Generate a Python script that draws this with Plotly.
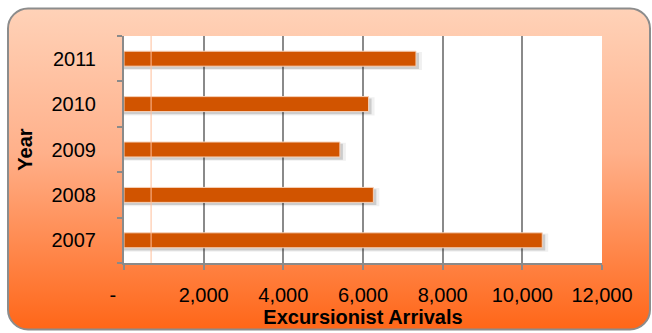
import base64
import plotly.graph_objects as go

# ---- data ----
years = ["2007", "2008", "2009", "2010", "2011"]
arrivals = [10500, 6260, 5420, 6140, 7330]
tick_vals = [0, 2000, 4000, 6000, 8000, 10000, 12000]
tick_text = ["-    ", "2,000", "4,000", "6,000", "8,000", "10,000", "12,000"]

W, H = 652, 333
ML, MR, MT, MB = 124, 50, 36, 70
FONT = "Liberation Sans, Arial, sans-serif"

# background rounded panel with vertical gradient (no text)
svg = f'''<svg xmlns="http://www.w3.org/2000/svg" width="{W}" height="{H}" viewBox="0 0 {W} {H}">
<defs><linearGradient id="g" x1="0" y1="0" x2="0" y2="1">
<stop offset="0" stop-color="#FFD2B8"/>
<stop offset="0.45" stop-color="#FFB08A"/>
<stop offset="1" stop-color="#FF6618"/>
</linearGradient></defs>
<rect x="8" y="8.5" width="642" height="321" rx="20" ry="20" fill="url(#g)" stroke="#8C8C8C" stroke-width="2"/>
</svg>'''
src = "data:image/svg+xml;base64," + base64.b64encode(svg.encode()).decode()

pw, ph = W - ML - MR, H - MT - MB
px_per_unit_x = pw / 12000
shift = 3 / px_per_unit_x

fig = go.Figure()
# soft shadows
fig.add_trace(go.Bar(
    x=[v + 2 * shift for v in arrivals], y=years, orientation="h",
    width=0.40, offset=-0.25, marker=dict(color="rgba(0,0,0,0.06)", line=dict(width=0)),
    hoverinfo="skip", showlegend=False))
fig.add_trace(go.Bar(
    x=[v + shift for v in arrivals], y=years, orientation="h",
    width=0.35, offset=-0.225, marker=dict(color="rgba(0,0,0,0.15)", line=dict(width=0)),
    hoverinfo="skip", showlegend=False))
# main bars
fig.add_trace(go.Bar(
    x=arrivals, y=years, orientation="h",
    width=0.33, offset=-0.165,
    marker=dict(color="#D15400", line=dict(color="#F6D2BA", width=1)),
    showlegend=False))

fig.update_layout(
    width=W, height=H,
    margin=dict(l=ML, r=MR, t=MT, b=MB, autoexpand=False),
    paper_bgcolor="white", plot_bgcolor="white",
    barmode="overlay",
    font=dict(family=FONT, size=20, color="black"),
    images=[dict(source=src, xref="paper", yref="paper",
                 x=-ML / pw, y=1 + MT / ph, sizex=W / pw, sizey=H / ph,
                 xanchor="left", yanchor="top", sizing="stretch", layer="below")],
    shapes=[
        dict(type="rect", xref="paper", yref="paper", x0=0, x1=1, y0=0, y1=1,
             fillcolor="white", line=dict(width=0), layer="below"),
        dict(type="line", xref="x", yref="paper", x0=680, x1=680, y0=0, y1=1,
             line=dict(color="#FFBE9A", width=1)),
    ],
)
fig.update_xaxes(
    automargin=False,
    range=[0, 12000], tickvals=tick_vals, ticktext=tick_text,
    showgrid=True, gridcolor="#8A8A8A", gridwidth=1.5, zeroline=False,
    showline=True, linecolor="#8A8A8A", linewidth=2,
    ticks="outside", ticklen=5, tickcolor="#8A8A8A", tickwidth=2,
    ticklabelstandoff=8,
    title=dict(text="<b>Excursionist Arrivals</b>", standoff=0, font=dict(size=20)),
)
fig.update_yaxes(
    automargin=False,
    type="category", categoryorder="array", categoryarray=years,
    showgrid=False, showline=True, linecolor="#8A8A8A", linewidth=2,
    ticks="outside", ticklen=5, tickcolor="#8A8A8A", tickwidth=2, tickson="boundaries",
    ticklabelstandoff=22,
    title=dict(text="<b>Year</b>", standoff=14, font=dict(size=20)),
)

fig.write_html("out.html")
